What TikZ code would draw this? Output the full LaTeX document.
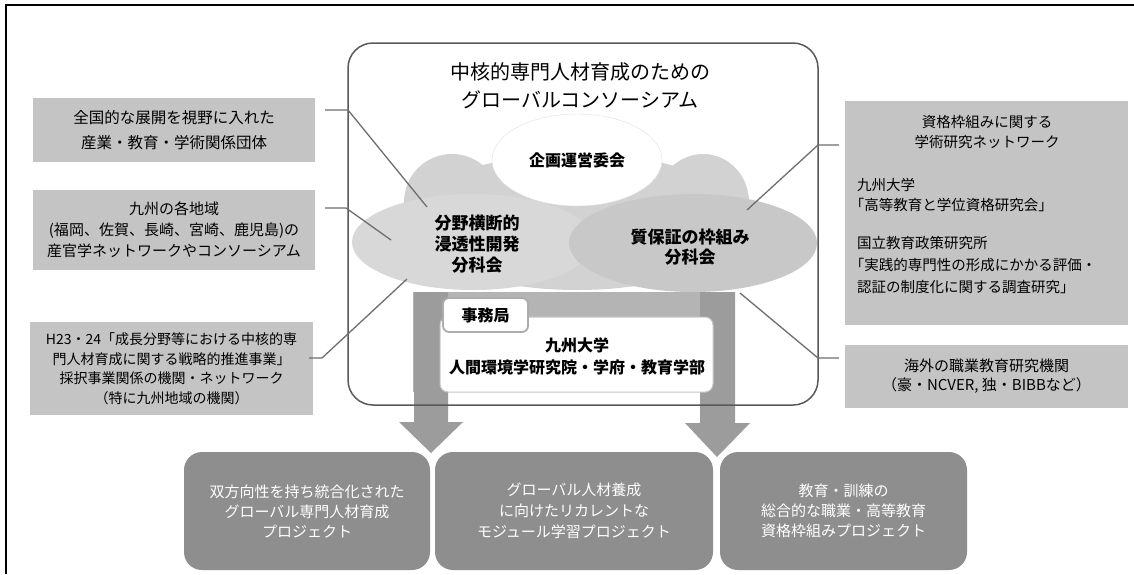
\documentclass[tikz,border=0pt]{standalone}
\usepackage{fontspec}
\setmainfont{Noto Sans CJK JP}
\usetikzlibrary{shapes.geometric}
\definecolor{boxgray}{HTML}{C4C4C4}
\definecolor{darkbox}{HTML}{8E8E8E}
\definecolor{arrowgray}{HTML}{9C9C9C}
\definecolor{ugray}{HTML}{B4B4B4}
\definecolor{linegray}{HTML}{6E6E6E}
\definecolor{cloudback}{HTML}{D2D2D2}
\definecolor{cloudleft}{HTML}{D8D8D8}
\definecolor{cloudright}{HTML}{C8C8C8}
\newcommand\myfs[2]{\fontsize{#1}{#2}\selectfont}
\begin{document}
\begin{tikzpicture}[x=1pt,y=-1pt,
  sidebox/.style={fill=boxgray, minimum width=282pt, inner sep=0pt, align=center},
  botbox/.style={fill=darkbox, rounded corners=18pt, minimum height=118pt, inner sep=0pt, align=center, text=white, font=\myfs{15}{20}},
  conn/.style={draw=linegray, line width=1.3pt},
  bigarrow/.style={fill=arrowgray},
  bold/.style={font=\bfseries\myfs{#1}{21}}
]
\useasboundingbox (0,0) rectangle (1134,574);
\fill[white] (0,0) rectangle (1134,574);
% outer frame
\draw[line width=1.8pt] (6,574) -- (6,5) -- (1134,5);

% cloud
\begin{scope}
  \clip (340,140) rectangle (830,292);
  \fill[cloudback] (577,222) ellipse [x radius=172pt, y radius=68pt];
  \fill[cloudback] (452,202) ellipse [x radius=48pt, y radius=48pt];
  \fill[cloudback] (703,202) ellipse [x radius=46pt, y radius=48pt];
  \fill[cloudleft] (473,242) ellipse [x radius=121pt, y radius=48pt];
  \fill[cloudright] (693,243) ellipse [x radius=124pt, y radius=49pt];
\end{scope}
\node[ellipse, fill=white, draw=gray!25, minimum width=170pt, minimum height=92pt, inner sep=0pt, font=\bfseries\myfs{16}{20}] (plan) at (577,160) {企画運営委会};
\node[align=center, font=\bfseries\myfs{17}{21}] (sub1) at (477,244) {分野横断的\\浸透性開発\\分科会};
\node[align=center, font=\bfseries\myfs{17}{20}] (sub2) at (690,247) {質保証の枠組み\\分科会};

% gray band behind office and big arrows
\fill[ugray] (413,292) rectangle (735,392);
\fill[bigarrow] (414,292) -- (448,292) -- (448,422) -- (463,422) -- (431,453) -- (399,422) -- (414,422) -- cycle;
\fill[bigarrow] (700,292) -- (735,292) -- (735,423) -- (750,423) -- (717,457) -- (685,423) -- (700,423) -- cycle;

% consortium frame
\node[draw=gray!70!black, line width=1.5pt, rounded corners=25pt, minimum width=470pt, minimum height=362pt] (cons) at (583,224) {};
\node[align=center, font=\myfs{20}{28}] (title) at (580,86) {中核的専門人材育成のための\\グローバルコンソーシアム};

% office
\node[draw=gray!45, line width=1pt, fill=white, rounded corners=8pt, minimum width=273pt, minimum height=75pt] (office) at (576.5,354.5) {};
\node[align=center, font=\bfseries\myfs{16}{22}] (officetxt) at (577,356) {九州大学\\人間環境学研究院・学府・教育学部};
\node[draw=gray!65, line width=1.8pt, fill=white, rounded corners=6pt, minimum width=85pt, minimum height=34pt, inner sep=0pt, font=\bfseries\myfs{16}{20}] (tab) at (485.5,315) {事務局};

% left boxes
\node[sidebox, minimum height=64pt, font=\myfs{15.5}{25}] (b1) at (174,130) {全国的な展開を視野に入れた\\産業・教育・学術関係団体};
\node[sidebox, minimum height=80pt, font=\myfs{15}{21}] (b2) at (174,230) {九州の各地域\\(福岡、佐賀、長崎、宮崎、鹿児島)の\\産官学ネットワークやコンソーシアム};
\node[sidebox, minimum width=283pt, minimum height=93pt, font=\myfs{14}{19.5}] (b3) at (171.5,368.5) {H23・24「成長分野等における中核的専\\門人材育成に関する戦略的推進事業」\\採択事業関係の機関・ネットワーク\\（特に九州地域の機関）};

% right boxes
\node[sidebox, minimum width=283pt, minimum height=224pt] (r1) at (986.5,213) {};
\node[align=center, font=\myfs{14.5}{20}] (r1t1) at (987,132) {資格枠組みに関する\\学術研究ネットワーク};
\node[anchor=west, align=left, inner sep=0pt, font=\myfs{14.5}{20}] (r1t2) at (857,195) {九州大学\\\hspace*{-0.5em}「高等教育と学位資格研究会」};
\node[anchor=west, align=left, inner sep=0pt, font=\myfs{14.5}{22}] (r1t3) at (857,265) {国立教育政策研究所\\\hspace*{-0.5em}「実践的専門性の形成にかかる評価・\\認証の制度化に関する調査研究」};
\node[sidebox, minimum width=283pt, minimum height=63pt, font=\myfs{15}{19}] (r2) at (986.5,376.5) {海外の職業教育研究機関\\（豪・NCVER, 独・BIBBなど）};

% bottom boxes
\node[botbox, minimum width=246pt] (p1) at (307,511) {双方向性を持ち統合化された\\グローバル専門人材育成\\プロジェクト};
\node[botbox, minimum width=278pt, font=\myfs{15}{21}] (p2) at (574,511) {グローバル人材養成\\に向けたリカレントな\\モジュール学習プロジェクト};
\node[botbox, minimum width=247pt] (p3) at (843.5,511) {教育・訓練の\\総合的な職業・高等教育\\資格枠組みプロジェクト};

% connectors
\coordinate (l1b) at (348,110);  \coordinate (l1e) at (427,207);
\coordinate (l2b) at (346,208);  \coordinate (l2e) at (391,240);
\coordinate (l3b) at (322,358);  \coordinate (l3e) at (407,279);
\coordinate (r1b) at (818,145);  \coordinate (r1e) at (747,210);
\coordinate (r2b) at (818,358);  \coordinate (r2e) at (740,293);
\draw[conn] ([xshift=10pt]b1.east |- l1b) -- (l1b) -- (l1e);
\draw[conn] ([xshift=10pt]b2.east |- l2b) -- (l2b) -- (l2e);
\draw[conn] ([xshift=-4pt]b3.east |- l3b) -- (l3b) -- (l3e);
\draw[conn] ([xshift=-6pt]r1.west |- r1b) -- (r1b) -- (r1e);
\draw[conn] ([xshift=-6pt]r2.west |- r2b) -- (r2b) -- (r2e);
\end{tikzpicture}
\end{document}
